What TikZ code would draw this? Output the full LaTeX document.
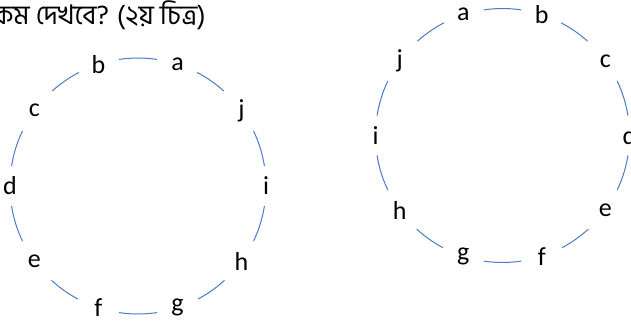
\documentclass[tikz,border=0pt]{standalone}
\usepackage{fontspec}
\usetikzlibrary{calc}
\setmainfont{Carlito}
\newfontfamily\bngfont[Script=Bengali]{Hind Siliguri}
\definecolor{arcblue}{HTML}{4A7CC4}
\begin{document}
\begin{tikzpicture}[x=1pt,y=1pt,
  lbl/.style={inner sep=0pt,font=\fontsize{26}{28}\selectfont},
  arcline/.style={draw=arcblue,line width=1pt}]
\useasboundingbox (0,0) rectangle (631,-324);
\node[anchor=base east,inner sep=0pt,font=\bngfont\fontsize{27}{30}\selectfont] (title) at (206,-24) {কম দেখবে? (২য় চিত্র)};
% left circle
\coordinate (cL) at (138,-186);
\def\rL{128}
\foreach \n/\a in {a/72,j/36,i/0,h/-36,g/-72,f/-108,e/-144,d/180,c/144,b/108}
  \node[lbl] (L\n) at ($(cL)+(\a:\rL)$) {\n};
\foreach \s/\e in {81.5/98.5,48/62.5,9/25.5,-25.5/-9,-62/-47.5,-98.5/-81.5,117.5/132,154.5/171,189/205.5,227.5/242}
  \draw[arcline] ($(cL)+(\s:\rL)$) arc[start angle=\s,end angle=\e,radius=\rL];
% right circle
\coordinate (cR) at (502.5,-135.5);
\def\rR{127}
\foreach \n/\a in {a/108,b/72,c/36,d/0,e/-36,f/-72,g/-108,h/-144,i/180,j/144}
  \node[lbl] (R\n) at ($(cR)+(\a:\rR)$) {\n};
\foreach \s/\e in {81.5/98.5,48/62.5,9/25.5,-25.5/-9,-62/-47.5,-98.5/-81.5,117.5/132,154.5/171,189/205.5,227.5/242}
  \draw[arcline] ($(cR)+(\s:\rR)$) arc[start angle=\s,end angle=\e,radius=\rR];
\end{tikzpicture}
\end{document}
